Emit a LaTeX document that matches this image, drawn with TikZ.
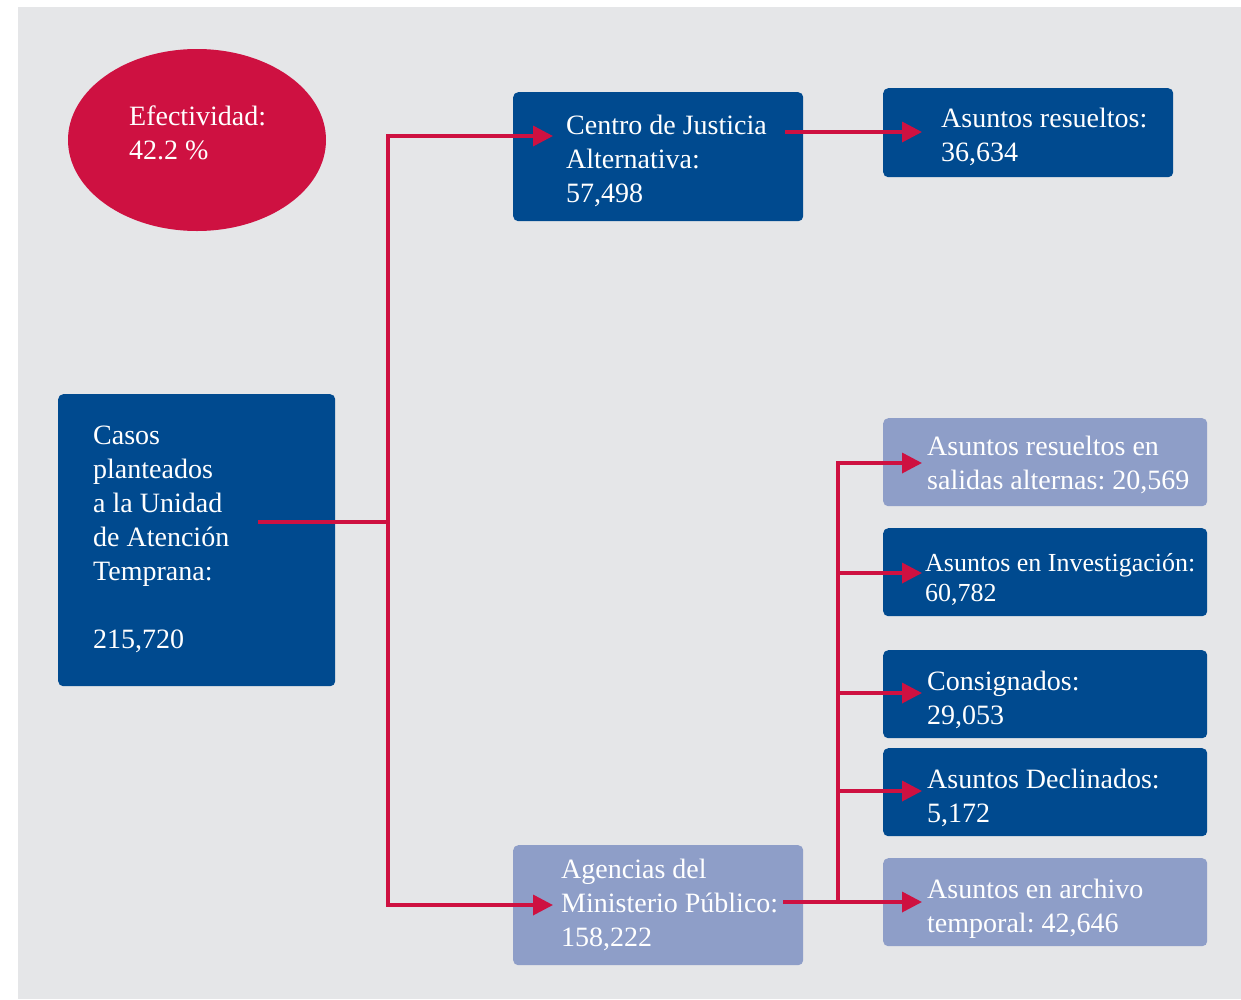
\documentclass[tikz,border=0pt]{standalone}
\usepackage{fontspec}
\setmainfont{Liberation Serif}
\usetikzlibrary{arrows.meta,shapes.geometric}
\definecolor{bggray}{HTML}{E5E6E8}
\definecolor{darkblue}{HTML}{004A8F}
\definecolor{lightblue}{HTML}{8E9EC8}
\definecolor{crimson}{HTML}{CE1141}
\tikzset{
  box/.style={rectangle, rounded corners=5pt, inner sep=0pt, anchor=north west, draw=none},
  dark/.style={box, fill=darkblue},
  light/.style={box, fill=lightblue},
  txt/.style={text=white, align=left, inner sep=0pt, anchor=west, font=\frenchspacing\fontsize{28}{34}\selectfont},
  smalltxt/.style={txt, font=\frenchspacing\fontsize{26}{30}\selectfont},
  conn/.style={draw=crimson, line width=3.5pt, line join=miter},
  arr/.style={conn, -{Triangle[length=20pt,width=20pt]}}
}
\begin{document}
\frenchspacing
\begin{tikzpicture}[x=1pt,y=-1pt]
\useasboundingbox (0,0) rectangle (1241,999);
\fill[bggray] (18,7) rectangle (1241,999);

% ellipse
\node[ellipse, fill=crimson, minimum width=258pt, minimum height=182pt, inner sep=0pt] (efe) at (197,140) {};
\node[txt] (efet) at (129,133) {Efectividad:\\42.2 \%};

% boxes
\node[dark, minimum width=277pt, minimum height=292pt] (casos) at (58,394) {};
\node[txt] (casost) at (93,539) {Casos\\planteados\\a la Unidad\\de Atención\\Temprana:\\[34pt]215,720};

\node[dark, minimum width=290pt, minimum height=129pt] (cja) at (513,92) {};
\node[txt] (cjat) at (566,161) {Centro de Justicia\\Alternativa:\\57,498};

\node[dark, minimum width=290pt, minimum height=89pt] (res) at (883,88) {};
\node[txt] (rest) at (941,137) {Asuntos resueltos:\\36,634};

\node[light, minimum width=290pt, minimum height=120pt] (age) at (513,845) {};
\node[txt] (aget) at (561,905) {Agencias del\\Ministerio Público:\\158,222};

\node[light, minimum width=324pt, minimum height=88pt] (sal) at (883,418) {};
\node[txt] (salt) at (927,465) {Asuntos resueltos en\\salidas alternas: 20,569};

\node[dark, minimum width=324pt, minimum height=88pt] (inv) at (883,528) {};
\node[smalltxt] (invt) at (925,579) {Asuntos en Investigación:\\60,782};

\node[dark, minimum width=324pt, minimum height=88pt] (con) at (883,650) {};
\node[txt] (cont) at (927,700) {Consignados:\\29,053};

\node[dark, minimum width=324pt, minimum height=88pt] (dec) at (883,748) {};
\node[txt] (dect) at (927,798) {Asuntos Declinados:\\5,172};

\node[light, minimum width=324pt, minimum height=88pt] (arc) at (883,858) {};
\node[txt] (arct) at (927,909) {Asuntos en archivo\\temporal: 42,646};

% connector coordinates
\coordinate (casosout) at (258,522);
\coordinate (j1) at (388,522);
\coordinate (cjain) at (553,136);
\coordinate (agein) at (553,905);
\coordinate (cjaout) at (785,132);
\coordinate (resin) at (922,132);
\coordinate (ageout) at (783,902);
\coordinate (j2) at (838,902);
\coordinate (j2top) at (838,463);
\coordinate (salin) at (922,463);
\coordinate (j2inv) at (838,573);
\coordinate (invin) at (922,573);
\coordinate (j2con) at (838,693);
\coordinate (conin) at (922,693);
\coordinate (j2dec) at (838,791);
\coordinate (decin) at (922,791);
\coordinate (arcin) at (922,902);

% connectors
\draw[conn] (casosout) -- (j1);
\draw[arr] (j1) |- (cjain);
\draw[arr] (j1) |- (agein);
\draw[arr] (cjaout) -- (resin);
\draw[arr] (ageout) -- (arcin);
\draw[arr] (j2) |- (salin);
\draw[arr] (j2inv) -- (invin);
\draw[arr] (j2con) -- (conin);
\draw[arr] (j2dec) -- (decin);
\end{tikzpicture}
\end{document}
